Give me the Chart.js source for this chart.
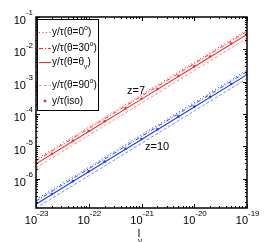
<!DOCTYPE html>
<html>
<head>
<meta charset="utf-8">
<script src="https://cdn.jsdelivr.net/npm/chart.js@4"></script>
<style>
  html, body { margin: 0; padding: 0; background: #fff; }
  #wrap { width: 274px; height: 242px; }
</style>
</head>
<body>
<div id="wrap"><canvas id="chart"></canvas></div>
<script>
// frequency grid (x axis)
const nuValues = [1e-23, 1e-22, 1e-21, 1e-20, 1e-19];
const isoNu = [1e-23, 2e-23, 5e-23, 1e-22, 2e-22, 5e-22, 1e-21, 2e-21, 5e-21, 1e-20, 2e-20, 5e-20, 1e-19];

// z = 7 (red)
const z7Theta0 = [4.0e-6, 4.0e-5, 4.0e-4, 4.0e-3, 4.0e-2];
const z7Theta30 = [3.6e-6, 3.6e-5, 3.6e-4, 3.6e-3, 3.6e-2];
const z7ThetaNu = [2.9e-6, 2.9e-5, 2.9e-4, 2.9e-3, 2.9e-2];
const z7Theta90 = [2.2e-6, 2.2e-5, 2.2e-4, 2.2e-3, 2.2e-2];
const z7Iso = [3.0e-6, 6.0e-6, 1.5e-5, 3.0e-5, 6.0e-5, 1.5e-4, 3.0e-4, 6.0e-4, 1.5e-3, 3.0e-3, 6.0e-3, 1.5e-2, 3.0e-2];

// z = 10 (blue)
const z10Theta0 = [2.3e-7, 2.3e-6, 2.3e-5, 2.3e-4, 2.3e-3];
const z10Theta30 = [2.05e-7, 2.05e-6, 2.05e-5, 2.05e-4, 2.05e-3];
const z10ThetaNu = [1.65e-7, 1.65e-6, 1.65e-5, 1.65e-4, 1.65e-3];
const z10Theta90 = [1.25e-7, 1.25e-6, 1.25e-5, 1.25e-4, 1.25e-3];
const z10Iso = [1.7e-7, 3.4e-7, 8.5e-7, 1.7e-6, 3.4e-6, 8.5e-6, 1.7e-5, 3.4e-5, 8.5e-5, 1.7e-4, 3.4e-4, 8.5e-4, 1.7e-3];

const xTicks = [-23, -22, -21, -20, -19];
const yTicks = [-1, -2, -3, -4, -5, -6];
const legendLabels = ['y/\u03c4(\u03b8=0', 'y/\u03c4(\u03b8=30', 'y/\u03c4(\u03b8=\u03b8', 'y/\u03c4(\u03b8=90', 'y/\u03c4(iso)'];

const RED = 'rgb(255,40,40)', RED_PALE = 'rgb(255,140,140)';
const BLUE = 'rgb(30,60,255)', BLUE_PALE = 'rgb(110,140,255)';

function pts(xs, ys) {
    return xs.map((x, i) => ({x: x, y: ys[i]}));
}

function makeSet(label, data, color, dash, width) {
    return {
        label: label,
        data: data,
        borderColor: color,
        backgroundColor: color,
        borderWidth: width || 1,
        borderDash: dash,
        showLine: true,
        pointRadius: 0,
    };
}

function makeIso(label, data, color) {
    return {
        label: label,
        data: data,
        borderColor: color,
        backgroundColor: color,
        showLine: false,
        pointRadius: 1.3,
        pointBorderWidth: 0,
    };
}

const datasets = [
    makeSet('z7 0', pts(nuValues, z7Theta0), RED, [1, 2.5]),
    makeSet('z7 30', pts(nuValues, z7Theta30), RED, [4, 2, 1, 2]),
    makeSet('z7 nu', pts(nuValues, z7ThetaNu), RED, [], 1.1),
    makeSet('z7 90', pts(nuValues, z7Theta90), RED_PALE, [3, 2]),
    makeIso('z7 iso', pts(isoNu, z7Iso), RED),
    makeSet('z10 0', pts(nuValues, z10Theta0), BLUE, [1, 2.5]),
    makeSet('z10 30', pts(nuValues, z10Theta30), BLUE, [4, 2, 1, 2]),
    makeSet('z10 nu', pts(nuValues, z10ThetaNu), BLUE, [], 1.1),
    makeSet('z10 90', pts(nuValues, z10Theta90), BLUE_PALE, [3, 2]),
    makeIso('z10 iso', pts(isoNu, z10Iso), BLUE),
];

const FONT = '"Liberation Sans", Arial, sans-serif';

// frame, inward ticks, power-of-ten labels, legend box and annotations
const decorPlugin = {
    id: 'decor',
    afterDraw(chart) {
        const ctx = chart.ctx;
        const a = chart.chartArea;
        const xs = chart.scales.x, ys = chart.scales.y;
        ctx.save();
        ctx.strokeStyle = '#000';
        ctx.fillStyle = '#000';
        ctx.setLineDash([]);

        // minor + major ticks
        ctx.lineWidth = 1;
        ctx.beginPath();
        for (let e = -23; e <= -19; e++) {
            for (let m = 1; m <= 9; m++) {
                const v = m * Math.pow(10, e);
                if (v > 1e-19 * 1.0001) break;
                const px = Math.round(xs.getPixelForValue(v)) + 0.5;
                const len = m === 1 ? 4 : 2;
                ctx.moveTo(px, a.bottom); ctx.lineTo(px, a.bottom - len);
                ctx.moveTo(px, a.top); ctx.lineTo(px, a.top + len);
            }
        }
        for (let e = -7; e <= -1; e++) {
            for (let m = 1; m <= 9; m++) {
                const v = m * Math.pow(10, e);
                if (v < ys.min || v > 1e-1 * 1.0001) continue;
                const py = Math.round(ys.getPixelForValue(v)) + 0.5;
                const len = m === 1 ? 4 : 2;
                ctx.moveTo(a.left, py); ctx.lineTo(a.left + len, py);
                ctx.moveTo(a.right, py); ctx.lineTo(a.right - len, py);
            }
        }
        ctx.stroke();

        // box
        ctx.lineWidth = 1.5;
        ctx.strokeRect(a.left, a.top, a.right - a.left, a.bottom - a.top);

        // x tick labels
        xTicks.forEach(e => {
            const px = xs.getPixelForValue(Math.pow(10, e));
            ctx.font = '11px ' + FONT;
            const w1 = ctx.measureText('10').width;
            const x0 = px - w1 + 1;
            ctx.textAlign = 'left';
            ctx.textBaseline = 'middle';
            ctx.fillText('10', x0, a.bottom + 13);
            ctx.font = '8px ' + FONT;
            ctx.fillText(String(e), x0 + w1, a.bottom + 6);
        });

        // y tick labels
        yTicks.forEach(e => {
            const py = ys.getPixelForValue(Math.pow(10, e));
            ctx.font = '8px ' + FONT;
            const w2 = ctx.measureText(String(e)).width;
            ctx.textBaseline = 'middle';
            ctx.textAlign = 'left';
            const xe = a.left - 3 - w2;
            ctx.fillText(String(e), xe, py - 4);
            ctx.font = '11px ' + FONT;
            ctx.textAlign = 'right';
            ctx.fillText('10', xe, py + 4);
        });

        // x axis label
        ctx.font = '11px ' + FONT;
        ctx.textAlign = 'center';
        ctx.fillText('l', 139, 234);
        ctx.font = '8px ' + FONT;
        ctx.fillText('\u03bd', 140, 241);

        // annotations
        ctx.font = '11px ' + FONT;
        ctx.textAlign = 'left';
        ctx.fillText('z=7', 127, 91);
        ctx.fillText('z=10', 145, 147);

        // legend
        const lx = a.left + 1, ly = a.top + 2, lw = 61, lh = 91;
        ctx.fillStyle = '#fff';
        ctx.fillRect(lx, ly, lw, lh);
        ctx.strokeStyle = '#000';
        ctx.lineWidth = 1;
        ctx.strokeRect(lx + 0.5, ly + 0.5, lw, lh);
        const rowY = [32, 48, 62, 85, 101];
        for (let i = 0; i < 5; i++) {
            const ds = chart.data.datasets[i];
            const y = rowY[i];
            ctx.strokeStyle = ds.borderColor;
            ctx.fillStyle = ds.borderColor;
            if (ds.showLine) {
                ctx.lineWidth = ds.borderWidth;
                ctx.setLineDash(ds.borderDash);
                ctx.beginPath();
                ctx.moveTo(39, y + 0.5);
                ctx.lineTo(51, y + 0.5);
                ctx.stroke();
                ctx.setLineDash([]);
            } else {
                ctx.beginPath();
                ctx.arc(45, y, 1.4, 0, Math.PI * 2);
                ctx.fill();
            }
            ctx.fillStyle = '#000';
            ctx.textAlign = 'left';
            ctx.textBaseline = 'middle';
            ctx.font = '10px ' + FONT;
            const t = legendLabels[i];
            ctx.fillText(t, 52, y);
            let w = ctx.measureText(t).width;
            if (i === 2) {
                ctx.font = '7px ' + FONT;
                ctx.fillText('\u03bd', 52 + w, y + 5);
                w += ctx.measureText('\u03bd').width;
                ctx.font = '10px ' + FONT;
                ctx.fillText(')', 52 + w, y);
            } else if (i !== 4) {
                ctx.font = '7px ' + FONT;
                ctx.fillText('o', 52 + w, y - 4);
                w += ctx.measureText('o').width;
                ctx.font = '10px ' + FONT;
                ctx.fillText(')', 52 + w, y);
            }
        }
        ctx.restore();
    }
};

new Chart(document.getElementById('chart'), {
    type: 'scatter',
    data: { datasets: datasets },
    options: {
        responsive: true,
        maintainAspectRatio: false,
        animation: false,
        layout: { padding: { left: 36, right: 27, top: 17, bottom: 34 } },
        plugins: {
            legend: { display: false },
            tooltip: { enabled: false },
        },
        scales: {
            x: { type: 'logarithmic', min: 1e-23, max: 1e-19, display: false },
            y: { type: 'logarithmic', min: 1.26e-7, max: 1e-1, display: false },
        },
    },
    plugins: [decorPlugin],
});
</script>
</body>
</html>
